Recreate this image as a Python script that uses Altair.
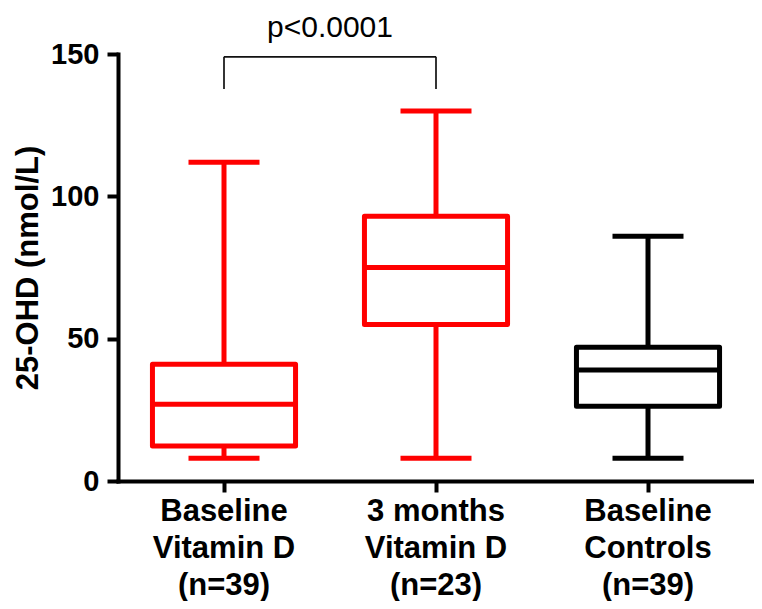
import altair as alt
import pandas as pd

groups = ["Baseline|Vitamin D|(n=39)", "3 months|Vitamin D|(n=23)", "Baseline|Controls|(n=39)"]
mins = [8, 8, 8]
q1 = [12.3, 55, 26.3]
medians = [27, 75, 39]
q3 = [41, 93, 47]
maxs = [112, 130, 86]
colors = ["#ff0000", "#ff0000", "#000000"]

p_text = "p<0.0001"
bracket_top = 149
bracket_bottom = 137.7
p_y = 156

df = pd.DataFrame({"g": groups, "mn": mins, "q1": q1, "med": medians,
                   "q3": q3, "mx": maxs, "c": colors})
br = pd.DataFrame({"g1": [groups[0]], "g2": [groups[1]],
                   "top": [bracket_top], "bot": [bracket_bottom], "t": [p_text], "ty": [p_y]})

FONT = "Liberation Sans"

xscale = alt.Scale(domain=groups, paddingInner=0, paddingOuter=0)
xenc = alt.X("g:N", scale=xscale,
             axis=alt.Axis(title=None, labelExpr="split(datum.label, '|')",
                           labelAngle=0, labelFontSize=31, labelFontWeight="bold",
                           labelLineHeight=37, labelPadding=4, tickSize=11, tickWidth=4,
                           domainWidth=4, domainCap="square", labelFont=FONT))
yscale = alt.Scale(domain=[0, 150], nice=False)
yaxis = alt.Axis(values=[0, 50, 100, 150], title="25-OHD (nmol/L)", grid=False,
                 labelFontSize=29, labelFontWeight="bold", labelPadding=8,
                 tickSize=11, tickWidth=4, domainWidth=4, domainCap="square",
                 titleFontSize=31, titleFontWeight="bold", titlePadding=6,
                 labelFont=FONT, titleFont=FONT)
col = alt.Color("c:N", scale=None)
strk = alt.Stroke("c:N", scale=None)

base = alt.Chart(df)

wlo = base.mark_rule(strokeWidth=5).encode(x=xenc, y=alt.Y("mn:Q", scale=yscale, axis=yaxis), y2="q1:Q", color=col)
whi = base.mark_rule(strokeWidth=5).encode(x=xenc, y=alt.Y("q3:Q", scale=yscale), y2="mx:Q", color=col)
box = base.mark_bar(fill="white", strokeWidth=5, strokeJoin="round",
                    width=alt.RelativeBandSize(0.675)).encode(
    x=xenc, y=alt.Y("q1:Q", scale=yscale), y2="q3:Q", stroke=strk)
med = base.mark_tick(size=143, thickness=5, opacity=1).encode(x=xenc, y=alt.Y("med:Q", scale=yscale), color=col)
capl = base.mark_tick(size=71, thickness=5, opacity=1).encode(x=xenc, y=alt.Y("mn:Q", scale=yscale), color=col)
caph = base.mark_tick(size=71, thickness=5, opacity=1).encode(x=xenc, y=alt.Y("mx:Q", scale=yscale), color=col)

bb = alt.Chart(br)
bh = bb.mark_rule(strokeWidth=1.7, color="#111111").encode(
    x=alt.X("g1:N", scale=xscale, bandPosition=0.5),
    x2="g2:N", y=alt.Y("top:Q", scale=yscale))
bl = bb.mark_rule(strokeWidth=1.7, color="#111111").encode(
    x=alt.X("g1:N", scale=xscale, bandPosition=0.5), y=alt.Y("bot:Q", scale=yscale), y2="top:Q")
brr = bb.mark_rule(strokeWidth=1.7, color="#111111").encode(
    x=alt.X("g2:N", scale=xscale, bandPosition=0.5), y=alt.Y("bot:Q", scale=yscale), y2="top:Q")
pt = bb.mark_text(fontSize=30, font=FONT, color="black", baseline="alphabetic", align="center").encode(
    x=alt.X("g1:N", scale=xscale, bandPosition=1), y=alt.Y("ty:Q", scale=yscale), text="t:N")

chart = alt.layer(wlo, whi, box, med, capl, caph, bh, bl, brr, pt).properties(
    width=636, height=427,
    autosize=alt.AutoSizeParams(type="none"),
    padding={"left": 110, "top": 46, "right": 0, "bottom": 120},
).configure_view(stroke=None).configure_axis(
    domainColor="black", tickColor="black", labelColor="black", titleColor="black"
)

chart.save("out.html", embed_options={"renderer": "svg", "actions": False})
